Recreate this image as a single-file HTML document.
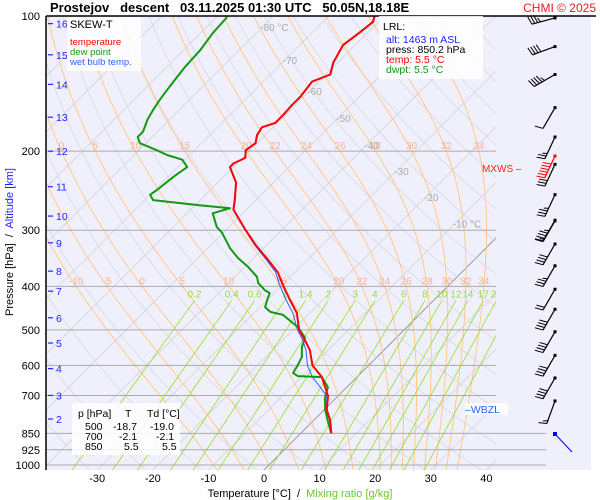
<!DOCTYPE html>
<html><head><meta charset="utf-8"><style>
html,body{margin:0;padding:0;background:#fff;}
svg{display:block;font-family:"Liberation Sans",Arial,sans-serif;}
</style></head><body>
<svg id="c" width="600" height="500" viewBox="0 0 600 500" xmlns="http://www.w3.org/2000/svg">
<defs><clipPath id="pc"><rect x="46" y="16" width="450" height="454"/></clipPath></defs>
<rect x="46" y="16" width="545" height="454" fill="#f0f0fd"/>
<g id="bg" clip-path="url(#pc)"></g>
<g id="grid"></g>
<g id="series" clip-path="url(#pc)"></g>
<g id="winds"></g>
<g id="labels"></g>
<line x1="46" y1="16" x2="596" y2="16" stroke="#000" stroke-width="1.5"/>
<line x1="46" y1="16" x2="46" y2="470" stroke="#000" stroke-width="1.5"/>
<text x="50" y="12" font-size="13" font-weight="bold" xml:space="preserve">Prostejov   descent   03.11.2025 01:30 UTC   50.05N,18.18E</text>
<text x="596" y="12" font-size="12" fill="#e02020" text-anchor="end">CHMI © 2025</text>
<g>
<rect x="67" y="17" width="74" height="54" fill="#fff" opacity="0.85"/>
<text x="70" y="28" font-size="11">SKEW-T</text>
<text x="70" y="45" font-size="9.5" fill="#ff0000">temperature</text>
<text x="70" y="55" font-size="9.5" fill="#119911">dew point</text>
<text x="70" y="65" font-size="9.5" fill="#2266ff">wet bulb temp.</text>
</g>
<g>
<rect x="379" y="16" width="104" height="63" fill="#fff" opacity="0.85"/>
<text x="383" y="30" font-size="10.5">LRL:</text>
<text x="386" y="43" font-size="10.5" fill="#2222ff">alt: 1463 m ASL</text>
<text x="386" y="53" font-size="10.5">press: 850.2 hPa</text>
<text x="386" y="63" font-size="10.5" fill="#ff0000">temp: 5.5 °C</text>
<text x="386" y="73" font-size="10.5" fill="#119911">dwpt: 5.5 °C</text>
</g>
<g font-size="10.5">
<rect x="72" y="403" width="108" height="52" fill="#fff" opacity="0.85"/>
<text x="78" y="417">p [hPa]</text><text x="125" y="417">T</text><text x="147" y="417">Td [°C]</text>
<text x="85" y="430">500</text><text x="113" y="430">-18.7</text><text x="150" y="430">-19.0</text>
<text x="85" y="440">700</text><text x="119" y="440">-2.1</text><text x="156" y="440">-2.1</text>
<text x="85" y="450">850</text><text x="124" y="450">5.5</text><text x="162" y="450">5.5</text>
</g>
<text x="482" y="172" font-size="10" fill="#ff2020">MXWS –</text>
<rect x="465" y="403" width="43" height="12" fill="#fff" opacity="0.8"/>
<text x="465" y="413" font-size="10.5" fill="#2266ff">–WBZL</text>
<text x="300" y="497" font-size="11" text-anchor="middle" xml:space="preserve">Temperature [°C]  /  <tspan fill="#66cc22">Mixing ratio [g/kg]</tspan></text>
<text transform="translate(13,242) rotate(-90)" font-size="11" text-anchor="middle" xml:space="preserve">Pressure [hPa]  /  <tspan fill="#2222ff">Altitude [km]</tspan></text>
</svg>
<script>
// ---- data ----
const tempP = [850,794,754,702,637,600,555,527,500,459,429,397,372,349,324,298,270,257,235,217,213,207,199,192,184,177,173,166,158,151,140,135,127,116,109,103,99.5];
const tempC = [5.5,2.9,0.5,-1.8,-6.3,-10.1,-13.3,-16,-18.9,-22.3,-25.9,-29.9,-33.1,-37.1,-41.9,-46.8,-52.3,-53.8,-56.7,-60.6,-60.6,-59.5,-60.8,-60.3,-61.5,-62,-60.4,-60.4,-60.6,-60.6,-61.2,-59.2,-60.8,-62.2,-61.5,-61,-61.9];
const dewP = [850,806,754,709,671,637,634,624,599,575,546,521,493,483,463,456,445,429,414,408,393,381,362,346,329,304,295,275,268,264,257,250,244,228,217,209,204,199,192,186,181,170,162,154,146,137,130,119,109,100.5];
const dewC = [5.5,3.1,0.2,-2.0,-3.4,-6.3,-10.8,-12.2,-12.8,-13.5,-15.3,-16.4,-19.6,-21.2,-24.5,-27.3,-29.1,-30,-30.8,-32.2,-34.7,-36,-39.4,-42.8,-46,-50.2,-52.2,-55.4,-53.2,-59.2,-68.5,-70,-69.6,-69,-68.3,-70.5,-74.1,-76.8,-81.1,-82.6,-82.6,-84,-84.7,-85.3,-85.8,-86.3,-86.7,-87,-87.8,-88.1];
const wbP = [850,794,754,702,637,600,555,527,500,459,429,397,372,349,324,298,270,257,235,217,213,207,199,192,184,177,173,166,158,151,140,135,127,116,109,103,99.5];
const wbC = [5.5,2.8,0.4,-2.0,-8.0,-11.0,-14.0,-16.4,-19.2,-23.0,-26.6,-30.5,-33.5,-37.4,-42.1,-46.9,-52.4,-53.9,-56.8,-60.7,-60.7,-59.6,-60.9,-60.4,-61.6,-62.1,-60.5,-60.5,-60.7,-60.7,-61.3,-59.3,-60.9,-62.3,-61.6,-61.1,-62.0];
const pressureTicks = [100,200,300,400,500,600,700,850,925,1000];
const tempTicks = [-30,-20,-10,0,10,20,30,40];
const altKm = [16,15,14,13,12,11,10,9,8,7,6,5,4,3,2];
const altP = [104,122,142,168,200,240,279,320,370,410,470,535,610,700,790];
const thetaW = [-10,-5,0,5,10,15,20,22,24,26,28,30,32,34];
const mixRatios = [0.2,0.4,0.6,1,1.4,2,3,4,6,8,10,12,14,17,20,25];
const isoLabels = [-80,-70,-60,-50,-40,-30,-20,-10];
const windP = [101,117,135,160,186,205,214,250,285,286,322,360,406,450,505,570,640,720];
const windDir = [255,250,240,210,205,205,205,205,210,210,210,210,210,210,210,210,210,200];
const windSpd = [35,40,45,10,25,60,30,35,45,15,40,35,20,40,40,40,40,15];
// ---- scales ----
const yP = p => 16 + 195*Math.log(p/100);
const xT = (t,p) => 264 + 5.56*t + (470 - yP(p));
const NS="http://www.w3.org/2000/svg";
function mk(tag,parent,attrs){const e=document.createElementNS(NS,tag);for(const k in attrs)e.setAttribute(k,attrs[k]);parent.appendChild(e);return e;}
const bg=document.getElementById('bg'), grid=document.getElementById('grid'), ser=document.getElementById('series'), lab=document.getElementById('labels'), wg=document.getElementById('winds');
function pathFrom(pts){return pts.map((q,i)=>(i?'L':'M')+q[0].toFixed(1)+','+q[1].toFixed(1)).join('');}
// isotherms
for(let t=-160;t<=60;t+=10){
  const l=mk('line',bg,{x1:xT(t,1050),y1:yP(1050),x2:xT(t,100),y2:yP(100),stroke:t===0?'#888':'#d2d2d8','stroke-width':0.8});
  
  
}
// dry adiabats
for(let th=230;th<=520;th+=10){
  const pts=[];for(let p=1050;p>=100;p-=10){pts.push([xT(th*Math.pow(p/1000,0.286)-273.15,p),yP(p)]);}
  const e=mk('path',bg,{d:pathFrom(pts),fill:'none',stroke:'#d8d8de','stroke-width':0.8});
  
  
}
// moist adiabats
const es=tc=>6.112*Math.exp(17.67*tc/(tc+243.5));
function moist(tw){let T=tw+273.15,p=1000;const out=[];
  const grad=(T,p)=>{const e=es(T-273.15),rs=0.622*e/(p-e);return (287.04*T+2.501e6*rs)/(p*(1005.7+2.501e6*2.501e6*rs*0.622/(287.04*T*T)));};
  out.push([1050,T-273.15+grad(T,p)*50]);
  while(p>=100){out.push([p,T-273.15]);const g=grad(T,p);T-=g*5;p-=5;}
  return out;}
thetaW.forEach(tw=>{
  const m=moist(tw);
  const e=mk('path',bg,{d:pathFrom(m.map(q=>[xT(q[1],q[0]),yP(q[0])])),fill:'none',stroke:'#ffc98a','stroke-width':1});
  
  
  [400,200].forEach(lp=>{const q=m.find(r=>r[0]<=lp);if(!q)return;const x=xT(q[1],lp);if(x<48||x>494)return;
    const t=mk('text',bg,{x:x,y:yP(lp)-2,'font-size':10,fill:'#f8b090','text-anchor':'middle'});t.textContent=tw;
    
    });
});
// mixing ratio
mixRatios.forEach(w=>{
  const td=p=>{const e=w*p/(622+w),l=Math.log(e/6.112);return 243.5*l/(17.67-l);};
  const e=mk('line',bg,{x1:xT(td(1050),1050),y1:yP(1050),x2:xT(td(430),430),y2:yP(430),stroke:'#99dd22','stroke-width':0.8});
  
  
  const t=mk('text',bg,{x:xT(td(430),430),y:yP(430)-3,'font-size':10,fill:'#99dd33','text-anchor':'middle'});t.textContent=w;
  
  
});
// isotherm labels
isoLabels.forEach((t,i)=>{const p=[108,128,150,172,198,226,258,296][i];
  const e=mk('text',bg,{x:xT(t,p)+2,y:yP(p),'font-size':10,fill:'#aaa'});e.textContent=(t===-80||t===-10)?t+' °C':t;
  
  });
// pressure lines + labels
pressureTicks.forEach(p=>{
  if(p>100){const x2=p>=850?546:496;const l=mk('line',grid,{x1:46,y1:yP(p),x2:x2,y2:yP(p),stroke:'#aaa','stroke-width':1});
  
  }
  const t=mk('text',lab,{x:40,y:yP(p)+4,'font-size':11,'text-anchor':'end'});t.textContent=p;
  
  
});
tempTicks.forEach(tc=>{const t=mk('text',lab,{x:264+5.56*tc,y:482,'font-size':11,'text-anchor':'middle'});t.textContent=tc;
  
  });
altKm.forEach((k,i)=>{const y=yP(altP[i]);
  const l=mk('line',lab,{x1:48,y1:y,x2:53,y2:y,stroke:'#2222ff','stroke-width':1.2});
  
  
  const t=mk('text',lab,{x:56,y:y+4,'font-size':10.5,fill:'#2222ff'});t.textContent=k;
  
  });
// series
function line(P,C,col,w,name){const e=mk('path',ser,{d:pathFrom(P.map((p,i)=>[xT(C[i],p),yP(p)])),fill:'none',stroke:col,'stroke-width':w,'stroke-linejoin':'round'});
  
  }
line(wbP,wbC,'#2266ff',1,'wet-bulb-line');
line(dewP,dewC,'#119911',2,'dew-point-line');
line(tempP,tempC,'#ff0000',2,'temperature-line');
// wind barbs
windP.forEach((p,i)=>{
  const y=yP(p),x=555,red=(i===5);const col=red?'#ff0000':'#000';
  const a=windDir[i]*Math.PI/180,L=24;const dx=Math.sin(a)*L,dy=-Math.cos(a)*L;
  const bx=x+dx,by=y+dy;
  const g=mk('g',wg,{});
  
  
  mk('line',g,{x1:x,y1:y,x2:bx,y2:by,stroke:col,'stroke-width':1.2});
  mk('rect',g,{x:x-1.5,y:y-1.5,width:3,height:3,fill:col});
  let s=windSpd[i],k=0;const ux=-dx/L,uy=-dy/L,nx=-uy,ny=ux;
  while(s>=5){const len=s>=10?9:5;const sx=bx+ux*k*3,sy=by+uy*k*3;
    mk('line',g,{x1:sx,y1:sy,x2:sx-nx*len*0.9-ux*2,y2:sy-ny*len*0.9-uy*2,stroke:col,'stroke-width':1});s-=s>=10?10:5;k++;}
});
const bl=mk('line',wg,{x1:555,y1:434,x2:572,y2:452,stroke:'#0000ee','stroke-width':1});


mk('rect',wg,{x:553,y:432,width:4,height:4,fill:'#0000ee'});
</script>
</body></html>
